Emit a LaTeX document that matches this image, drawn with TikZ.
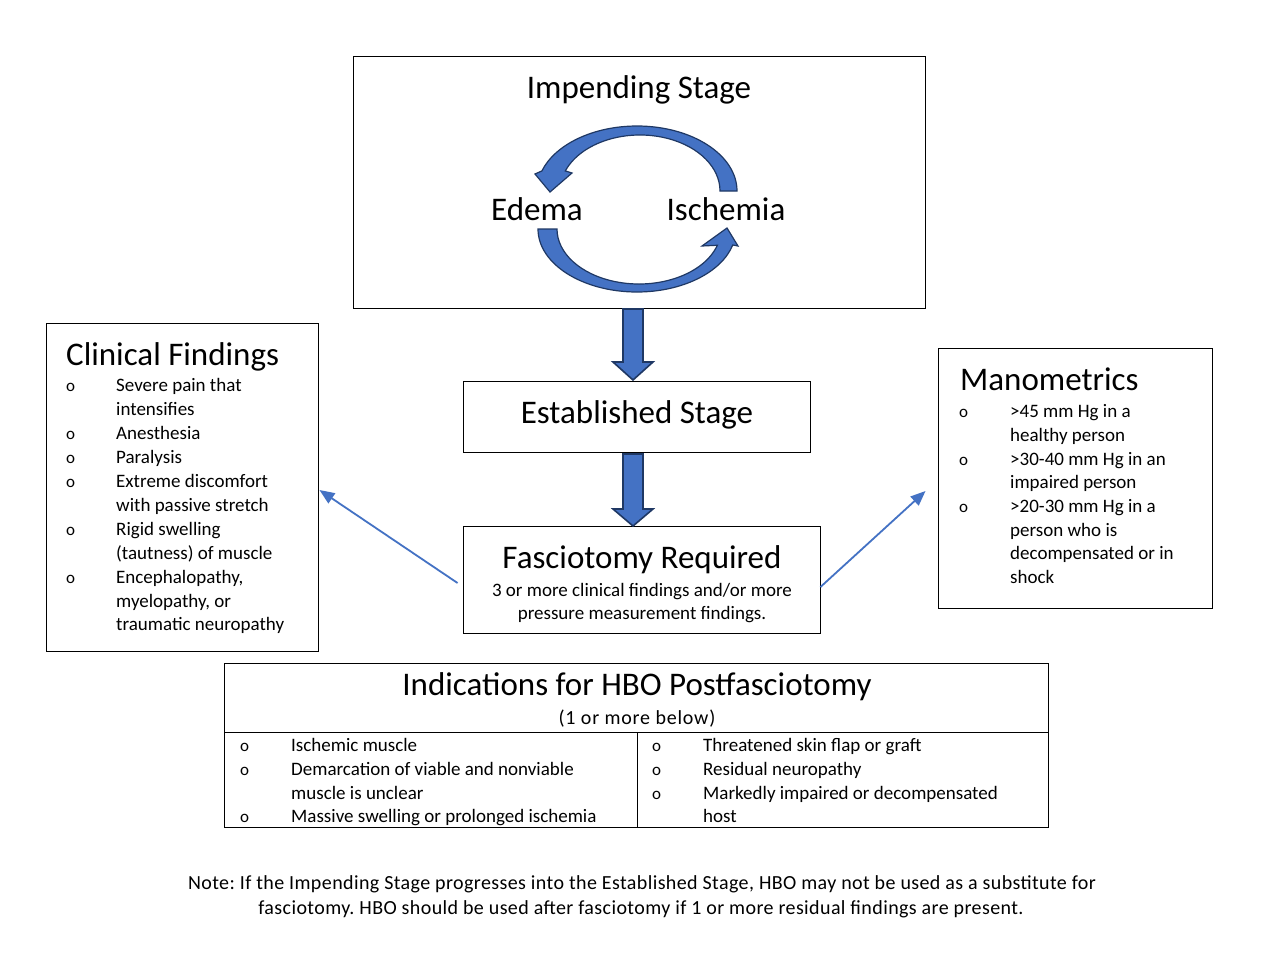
\documentclass[tikz,border=0pt]{standalone}
\usepackage{fontspec}
\setmainfont{Carlito}
\usetikzlibrary{arrows.meta,calc}
\definecolor{ablue}{HTML}{4472C4}
\definecolor{anavy}{HTML}{1F3864}
\frenchspacing
\begin{document}
\begin{tikzpicture}[x=1pt,y=-1pt,
  box/.style={draw=black,line width=0.9pt,inner sep=0pt},
  txt/.style={inner sep=0pt,text height=0.54em,text depth=0pt,yshift=-4pt,font=\fontsize{19}{24}\selectfont},
  ttl/.style={inner sep=0pt,text height=0.54em,text depth=0pt,yshift=-8pt,font=\fontsize{33}{40}\selectfont},
  item/.style={txt,anchor=west},
  bul/.style={inner sep=0pt,text height=0.54em,text depth=0pt,yshift=-4pt,anchor=west,font=\fontsize{17}{24}\selectfont},
  wide/.style={font=\fontsize{20}{24}\selectfont\addfontfeatures{LetterSpace=2}},
  blockarrow/.style={draw=anavy,fill=ablue,line width=1.6pt,line join=miter},
  curvarrow/.style={draw=anavy,fill=ablue,line width=1.2pt,line join=miter},
  thinarrow/.style={draw=ablue,line width=1.8pt,-{Triangle[length=15pt,width=12pt]}}]
\useasboundingbox (0,0) rectangle (1262,975);
\fill[white] (0,0) rectangle (1262,975);
% boxes
\node[box,minimum width=572,minimum height=252] (imp) at (639,182) {};
\node[box,minimum width=347,minimum height=71] (est) at (636.5,416.5) {};
\node[box,minimum width=357,minimum height=107] (fas) at (641.5,579.5) {};
\node[box,minimum width=272,minimum height=328] (clin) at (182,487) {};
\node[box,minimum width=274,minimum height=260] (mano) at (1075,478) {};
\node[box,minimum width=824,minimum height=164] (ind) at (636,745) {};
\draw[line width=0.9pt] (224,732) -- (1048,732);
\draw[line width=0.9pt] (637,732) -- (637,827);
% impending stage
\node[ttl] (impt) at (639,88) {Impending Stage};
\node[ttl] (edema) at (537,210) {Edema};
\node[ttl] (isch) at (726,210) {Ischemia};
% circular arrows
\draw[curvarrow] (737,191) arc[start angle=0,end angle=-162,x radius=100,y radius=65]
  -- (535,174) -- (550,192) -- (572,173) -- ($(640,191)+(-159:80 and 56)$)
  arc[start angle=-159,end angle=0,x radius=80,y radius=56] -- cycle;
\draw[curvarrow] (538,229) arc[start angle=180,end angle=14.7,x radius=99,y radius=63]
  -- (738,246) -- (727,228) -- (702,246) -- ($(639,229)+(17.2:82 and 55)$)
  arc[start angle=17.2,end angle=180,x radius=82,y radius=55] -- cycle;
% block arrows down
\draw[blockarrow] (623,309) -- (643,309) -- (643,362) -- (653,362) -- (633,380) -- (613,362) -- (623,362) -- cycle;
\draw[blockarrow] (623,454) -- (643,454) -- (643,509) -- (653,509) -- (633,526) -- (613,509) -- (623,509) -- cycle;
% established / fasciotomy
\node[ttl] (estt) at (637,413) {Established Stage};
\node[ttl] (fast) at (642,558) {Fasciotomy Required};
\node[txt] (fas1) at (642,590) {3 or more clinical findings and/or more};
\node[txt] (fas2) at (642,613) {pressure measurement findings.};
% thin arrows
\draw[thinarrow] ([xshift=-5pt,yshift=-3.5pt]fas.west) -- ([xshift=1pt,yshift=-3pt]clin.east);
\draw[thinarrow] ([yshift=-7.5pt]fas.east) -- ([xshift=-12pt,yshift=-13pt]mano.west);
% clinical findings
\node[ttl,anchor=west] (clint) at (66,355) {Clinical Findings};
\node[bul] (cb1) at (66,385) {o};
\node[item] (c1) at (116,385) {Severe pain that};
\node[item] (c2) at (116,409) {intensifies};
\node[bul] (cb2) at (66,433) {o};
\node[item] (c3) at (116,433) {Anesthesia};
\node[bul] (cb3) at (66,457) {o};
\node[item] (c4) at (116,457) {Paralysis};
\node[bul] (cb4) at (66,481) {o};
\node[item] (c5) at (116,481) {Extreme discomfort};
\node[item] (c6) at (116,505) {with passive stretch};
\node[bul] (cb5) at (66,529) {o};
\node[item] (c7) at (116,529) {Rigid swelling};
\node[item] (c8) at (116,553) {(tautness) of muscle};
\node[bul] (cb6) at (66,577) {o};
\node[item] (c9) at (116,577) {Encephalopathy,};
\node[item] (c10) at (116,601) {myelopathy, or};
\node[item] (c11) at (116,624) {traumatic neuropathy};
% manometrics
\node[ttl,anchor=west] (manot) at (960,380) {Manometrics};
\node[bul] (mb1) at (959,411) {o};
\node[item] (m1) at (1010,411) {>45 mm Hg in a};
\node[item] (m2) at (1010,435) {healthy person};
\node[bul] (mb2) at (959,459) {o};
\node[item] (m3) at (1010,459) {>30-40 mm Hg in an};
\node[item] (m4) at (1010,482) {impaired person};
\node[bul] (mb3) at (959,506) {o};
\node[item] (m5) at (1010,506) {>20-30 mm Hg in a};
\node[item] (m6) at (1010,530) {person who is};
\node[item] (m7) at (1010,553) {decompensated or in};
\node[item] (m8) at (1010,577) {shock};
% indications
\node[ttl] (indt) at (637,685) {Indications for HBO Postfasciotomy};
\node[txt,wide] (inds) at (637,718) {\addfontfeatures{LetterSpace=4}(1 or more below)};
\node[bul] (ib1) at (240,745) {o};
\node[item] (i1) at (291,745) {Ischemic muscle};
\node[bul] (ib2) at (240,769) {o};
\node[item] (i2) at (291,769) {Demarcation of viable and nonviable};
\node[item] (i3) at (291,793) {muscle is unclear};
\node[bul] (ib3) at (240,816) {o};
\node[item] (i4) at (291,816) {Massive swelling or prolonged ischemia};
\node[bul] (jb1) at (652,745) {o};
\node[item] (j1) at (703,745) {Threatened skin flap or graft};
\node[bul] (jb2) at (652,769) {o};
\node[item] (j2) at (703,769) {Residual neuropathy};
\node[bul] (jb3) at (652,793) {o};
\node[item] (j3) at (703,793) {Markedly impaired or decompensated};
\node[item] (j4) at (703,816) {host};
% note
\node[txt,wide] (n1) at (642,883) {Note: If the Impending Stage progresses into the Established Stage, HBO may not be used as a substitute for};
\node[txt,wide] (n2) at (641,908) {fasciotomy. HBO should be used after fasciotomy if 1 or more residual findings are present.};
\end{tikzpicture}
\end{document}
